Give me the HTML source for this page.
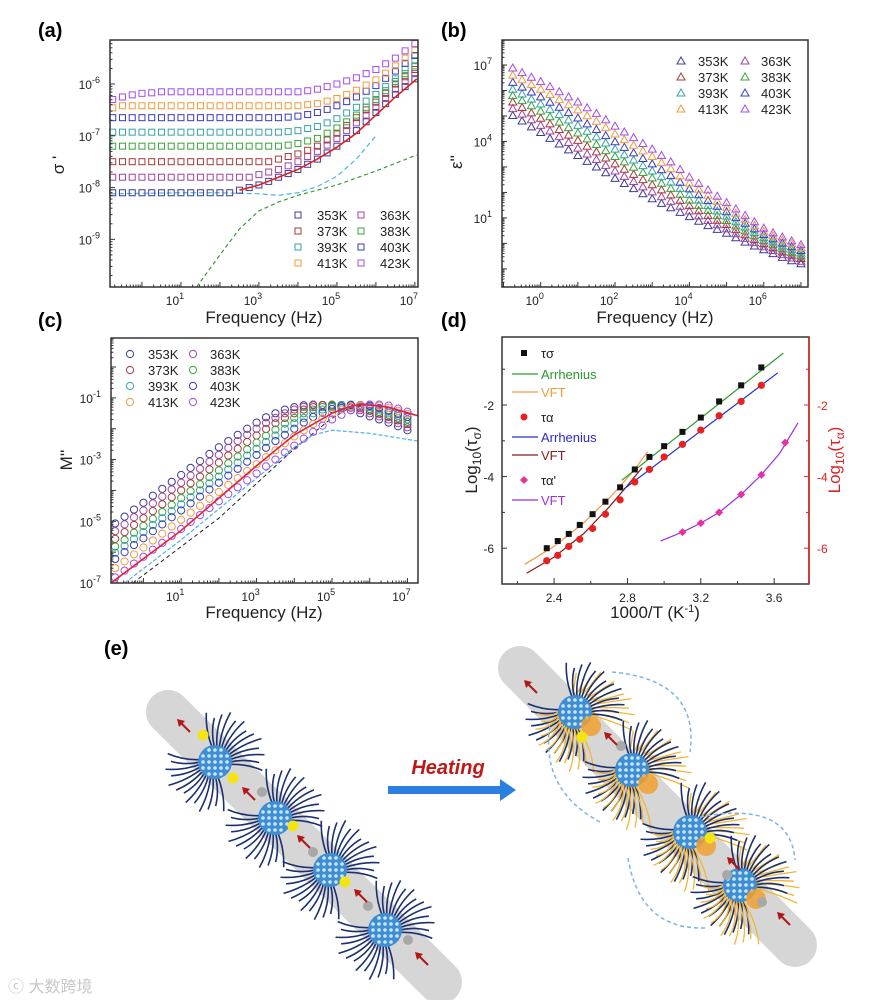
<!DOCTYPE html>
<html><head><meta charset="utf-8"><style>
html,body{margin:0;padding:0;background:#fff}
svg{display:block;font-family:"Liberation Sans",Arial,sans-serif}
</style></head><body>
<svg id="fig" width="871" height="1000" viewBox="0 0 871 1000" xmlns="http://www.w3.org/2000/svg">
<g id="pa"></g>
<g id="pb"></g>
<g id="pc"></g>
<g id="pd"></g>
<g id="pe"></g>
<text x="38" y="37" font-size="20" font-weight="bold">(a)</text>
<text x="441" y="37" font-size="20" font-weight="bold">(b)</text>
<text x="38" y="327" font-size="20" font-weight="bold">(c)</text>
<text x="441" y="327" font-size="20" font-weight="bold">(d)</text>
<text x="104" y="655" font-size="20" font-weight="bold">(e)</text>
<text x="8" y="992" font-size="16" fill="#c8c8c8" font-family="'Liberation Sans','Noto Sans CJK SC',sans-serif">ⓒ 大数跨境</text>
</svg>
<script>
// ---------- DATA ----------
const temps = ["353K","363K","373K","383K","393K","403K","413K","423K"];
const colors = ["#3b3b9c","#a4449e","#a83a3a","#3aa33a","#3aa3a3","#3b3bc4","#f39a3a","#a24cf0"];
// shared log10 frequency grid for panels a, b, c
const freqGrid = [-0.75,-0.5,-0.25,0,0.25,0.5,0.75,1,1.25,1.5,1.75,2,2.25,2.5,2.75,3,3.25,3.5,3.75,4,4.25,4.5,4.75,5,5.25,5.5,5.75,6,6.25,6.5,6.75,7];
// panel a: log10 sigma'
const sigA353 = [-8.1,-8.1,-8.1,-8.1,-8.1,-8.1,-8.1,-8.1,-8.1,-8.1,-8.1,-8.1,-8.1,-8.05,-8.0,-7.95,-7.88,-7.8,-7.73,-7.65,-7.55,-7.45,-7.33,-7.2,-7.05,-6.9,-6.73,-6.55,-6.38,-6.2,-6.05,-5.9];
const sigA363 = [-7.8,-7.8,-7.8,-7.8,-7.8,-7.8,-7.8,-7.8,-7.8,-7.8,-7.8,-7.8,-7.8,-7.8,-7.8,-7.75,-7.7,-7.65,-7.58,-7.5,-7.4,-7.3,-7.18,-7.05,-6.9,-6.75,-6.6,-6.45,-6.28,-6.1,-5.95,-5.8];
const sigA373 = [-7.5,-7.5,-7.5,-7.5,-7.5,-7.5,-7.5,-7.5,-7.5,-7.5,-7.5,-7.5,-7.5,-7.5,-7.5,-7.5,-7.5,-7.45,-7.4,-7.35,-7.28,-7.2,-7.08,-6.95,-6.8,-6.65,-6.5,-6.35,-6.18,-6.0,-5.86,-5.72];
const sigA383 = [-7.2,-7.2,-7.2,-7.2,-7.2,-7.2,-7.2,-7.2,-7.2,-7.2,-7.2,-7.2,-7.2,-7.2,-7.2,-7.2,-7.2,-7.2,-7.18,-7.15,-7.1,-7.05,-6.95,-6.85,-6.73,-6.6,-6.45,-6.3,-6.13,-5.95,-5.8,-5.65];
const sigA393 = [-6.93,-6.93,-6.93,-6.93,-6.93,-6.93,-6.93,-6.93,-6.93,-6.93,-6.93,-6.93,-6.93,-6.93,-6.93,-6.93,-6.93,-6.93,-6.92,-6.9,-6.86,-6.82,-6.75,-6.67,-6.56,-6.45,-6.33,-6.2,-6.05,-5.9,-5.72,-5.55];
const sigA403 = [-6.65,-6.65,-6.65,-6.65,-6.65,-6.65,-6.65,-6.65,-6.65,-6.65,-6.65,-6.65,-6.65,-6.65,-6.65,-6.65,-6.65,-6.65,-6.64,-6.62,-6.59,-6.55,-6.49,-6.42,-6.34,-6.25,-6.14,-6.03,-5.89,-5.75,-5.6,-5.45];
const sigA413 = [-6.46,-6.42,-6.42,-6.42,-6.42,-6.42,-6.42,-6.42,-6.42,-6.42,-6.42,-6.42,-6.42,-6.42,-6.42,-6.42,-6.42,-6.42,-6.42,-6.42,-6.4,-6.38,-6.33,-6.28,-6.2,-6.12,-6.02,-5.92,-5.79,-5.65,-5.5,-5.35];
const sigA423 = [-6.3,-6.25,-6.21,-6.18,-6.17,-6.15,-6.15,-6.15,-6.15,-6.15,-6.15,-6.15,-6.15,-6.15,-6.15,-6.15,-6.15,-6.15,-6.15,-6.15,-6.13,-6.1,-6.05,-6.0,-5.94,-5.88,-5.8,-5.72,-5.61,-5.5,-5.36,-5.22];
const fitRedX = [2.5,3,3.5,4,4.5,5,5.5,6,6.5,7.05];
const fitRedY = [-8.05,-7.95,-7.8,-7.65,-7.45,-7.22,-6.95,-6.6,-6.25,-5.9];
const fitCyanX = [-0.8,1,2,3,3.5,4,4.5,5,5.5,6];
const fitCyanY = [-8.12,-8.1,-8.1,-8.12,-8.15,-8.1,-7.98,-7.78,-7.45,-7.0];
const fitGreenX = [1.4,2,2.5,3,3.5,4,5,6,7.05];
const fitGreenY = [-9.92,-9.3,-8.8,-8.45,-8.28,-8.15,-7.95,-7.68,-7.37];
// panel b: log10 eps''
const epsB353 = [5.02,4.8,4.57,4.35,4.12,3.9,3.67,3.45,3.22,3.0,2.77,2.55,2.35,2.15,1.95,1.75,1.57,1.4,1.22,1.05,0.87,0.7,0.55,0.4,0.22,0.05,-0.1,-0.25,-0.4,-0.55,-0.68,-0.8];
const epsB363 = [5.29,5.07,4.85,4.63,4.41,4.19,3.96,3.74,3.51,3.29,3.06,2.84,2.63,2.43,2.22,2.02,1.83,1.65,1.46,1.27,1.08,0.9,0.73,0.57,0.38,0.2,0.03,-0.13,-0.28,-0.44,-0.57,-0.7];
const epsB373 = [5.55,5.33,5.12,4.91,4.69,4.47,4.25,4.04,3.81,3.59,3.35,3.12,2.91,2.71,2.5,2.30,2.1,1.90,1.69,1.48,1.28,1.09,0.91,0.74,0.54,0.34,0.16,-0.01,-0.17,-0.33,-0.46,-0.59];
const epsB383 = [5.8,5.6,5.4,5.19,4.97,4.76,4.54,4.33,4.1,3.88,3.64,3.41,3.2,2.99,2.78,2.57,2.36,2.16,1.93,1.7,1.49,1.29,1.09,0.9,0.69,0.49,0.3,0.11,-0.05,-0.21,-0.35,-0.49];
const epsB393 = [6.05,5.86,5.66,5.47,5.26,5.05,4.84,4.63,4.4,4.18,3.94,3.7,3.48,3.27,3.05,2.84,2.62,2.41,2.16,1.92,1.7,1.48,1.27,1.07,0.85,0.64,0.43,0.23,0.06,-0.1,-0.24,-0.38];
const epsB403 = [6.32,6.13,5.94,5.75,5.54,5.34,5.13,4.92,4.69,4.47,4.23,3.99,3.77,3.55,3.33,3.12,2.89,2.66,2.4,2.14,1.91,1.68,1.46,1.24,1.01,0.79,0.57,0.35,0.18,0.01,-0.13,-0.28];
const epsB413 = [6.6,6.42,6.23,6.05,5.84,5.64,5.44,5.24,5.01,4.79,4.54,4.29,4.07,3.85,3.63,3.41,3.17,2.93,2.65,2.37,2.13,1.89,1.65,1.42,1.18,0.94,0.7,0.47,0.3,0.13,-0.01,-0.16];
const epsB423 = [6.88,6.7,6.52,6.35,6.15,5.95,5.75,5.55,5.32,5.1,4.85,4.6,4.37,4.15,3.92,3.7,3.45,3.2,2.9,2.6,2.35,2.1,1.85,1.6,1.35,1.1,0.85,0.6,0.42,0.25,0.1,-0.05];
// panel c: log10 M''
const modC353 = [-5.07,-4.85,-4.62,-4.4,-4.17,-3.95,-3.72,-3.5,-3.27,-3.05,-2.82,-2.6,-2.4,-2.2,-2.0,-1.8,-1.63,-1.5,-1.38,-1.3,-1.24,-1.22,-1.23,-1.27,-1.33,-1.4,-1.5,-1.6,-1.7,-1.8,-1.92,-2.05];
const modC363 = [-5.32,-5.1,-4.87,-4.65,-4.42,-4.2,-3.97,-3.75,-3.52,-3.3,-3.07,-2.85,-2.62,-2.4,-2.2,-2.0,-1.81,-1.65,-1.5,-1.38,-1.29,-1.24,-1.23,-1.24,-1.27,-1.32,-1.4,-1.5,-1.6,-1.7,-1.82,-1.95];
const modC373 = [-5.57,-5.35,-5.12,-4.9,-4.67,-4.45,-4.22,-4.0,-3.77,-3.55,-3.32,-3.1,-2.87,-2.65,-2.43,-2.22,-2.01,-1.82,-1.65,-1.5,-1.38,-1.3,-1.24,-1.22,-1.24,-1.28,-1.34,-1.42,-1.52,-1.62,-1.73,-1.85];
const modC383 = [-5.82,-5.6,-5.37,-5.15,-4.92,-4.7,-4.47,-4.25,-4.02,-3.8,-3.57,-3.35,-3.12,-2.9,-2.67,-2.45,-2.23,-2.03,-1.83,-1.65,-1.5,-1.38,-1.3,-1.24,-1.23,-1.24,-1.29,-1.36,-1.45,-1.55,-1.66,-1.78];
const modC393 = [-6.02,-5.8,-5.57,-5.35,-5.12,-4.9,-4.67,-4.45,-4.22,-4.0,-3.77,-3.55,-3.32,-3.1,-2.87,-2.65,-2.43,-2.22,-2.01,-1.82,-1.65,-1.5,-1.38,-1.3,-1.25,-1.22,-1.25,-1.3,-1.38,-1.48,-1.58,-1.7];
const modC403 = [-6.22,-6.0,-5.77,-5.55,-5.32,-5.1,-4.87,-4.65,-4.42,-4.2,-3.97,-3.75,-3.52,-3.3,-3.07,-2.85,-2.62,-2.4,-2.2,-2.0,-1.8,-1.62,-1.48,-1.36,-1.28,-1.23,-1.23,-1.26,-1.33,-1.42,-1.52,-1.62];
const modC413 = [-6.52,-6.3,-6.07,-5.85,-5.62,-5.4,-5.17,-4.95,-4.72,-4.5,-4.27,-4.05,-3.82,-3.6,-3.37,-3.15,-2.92,-2.7,-2.47,-2.25,-2.05,-1.85,-1.67,-1.5,-1.38,-1.28,-1.24,-1.22,-1.26,-1.32,-1.42,-1.52];
const modC423 = [-6.82,-6.6,-6.37,-6.15,-5.92,-5.7,-5.47,-5.25,-5.02,-4.8,-4.57,-4.35,-4.12,-3.9,-3.67,-3.45,-3.22,-3.0,-2.77,-2.55,-2.32,-2.1,-1.9,-1.7,-1.55,-1.4,-1.3,-1.22,-1.22,-1.25,-1.35,-1.45];
const fitCRedX = [-0.86,1,3,4,5,5.5,5.8,6.5,7.28];
const fitCRedY = [-7.0,-5.3,-3.2,-2.2,-1.5,-1.27,-1.2,-1.3,-1.58];
const fitCBlackX = [-0.28,2,4,4.95,5.5,6,7.28];
const fitCBlackY = [-7.0,-4.9,-2.65,-1.7,-1.3,-1.22,-1.58];
const fitCCyanX = [-0.5,1,2,3,4,4.5,5,6,7.28];
const fitCCyanY = [-7.0,-5.6,-4.6,-3.6,-2.6,-2.2,-2.05,-2.15,-2.4];
// panel d
const dSigX = [2.36,2.42,2.48,2.54,2.61,2.68,2.76,2.84,2.92,3.0,3.1,3.2,3.3,3.42,3.53];
const dSigY = [-6.0,-5.8,-5.6,-5.35,-5.05,-4.7,-4.3,-3.8,-3.45,-3.15,-2.75,-2.35,-1.9,-1.45,-0.95];
const dAlpX = [2.36,2.42,2.48,2.54,2.61,2.68,2.76,2.84,2.92,3.0,3.1,3.2,3.3,3.42,3.53];
const dAlpY = [-6.35,-6.2,-5.95,-5.75,-5.45,-5.05,-4.65,-4.15,-3.8,-3.45,-3.1,-2.7,-2.3,-1.9,-1.45];
const dAlp2X = [3.1,3.2,3.3,3.42,3.53,3.66];
const dAlp2Y = [-5.55,-5.3,-5.0,-4.5,-3.95,-3.05];
const arrSigX = [2.77,3.65], arrSigY = [-4.1,-0.55];
const vftSigX = [2.24,2.4,2.56,2.72,2.84,2.91], vftSigY = [-6.45,-5.95,-5.3,-4.5,-3.8,-3.3];
const arrAlpX = [2.78,3.62], arrAlpY = [-4.35,-1.1];
const vftAlpX = [2.25,2.4,2.56,2.7,2.8,2.88], vftAlpY = [-6.7,-6.25,-5.6,-4.85,-4.25,-3.75];
const vftAlp2X = [2.98,3.1,3.2,3.3,3.42,3.53,3.63,3.73], vftAlp2Y = [-5.8,-5.55,-5.3,-5.0,-4.5,-3.95,-3.35,-2.5];
// ---------- HELPERS ----------
const NS="http://www.w3.org/2000/svg";
function mk(parent,tag,attrs){const e=document.createElementNS(NS,tag);for(const k in attrs)e.setAttribute(k,attrs[k]);parent.appendChild(e);return e;}
function axes(o){return {x:v=>o.x0+(v-o.xmin)/(o.xmax-o.xmin)*(o.x1-o.x0), y:v=>o.y1-(v-o.ymin)/(o.ymax-o.ymin)*(o.y1-o.y0)};}
function frame(g,o){
  const r=mk(g,'rect',{x:o.x0,y:o.y0,width:o.x1-o.x0,height:o.y1-o.y0,fill:'none',stroke:'#333','stroke-width':1.5});
  
  
}
function logTicks(g,o,A,axis,labels){
  const lo=Math.floor(axis==='x'?o.xmin:o.ymin), hi=Math.ceil(axis==='x'?o.xmax:o.ymax);
  const mn=axis==='x'?o.xmin:o.ymin, mx=axis==='x'?o.xmax:o.ymax;
  for(let d=lo;d<=hi;d++){
    for(let m=1;m<10;m++){
      const v=d+Math.log10(m); if(v<mn||v>mx) continue;
      const len=m===1?5:2.5;
      if(axis==='x'){const X=A.x(v);mk(g,'line',{x1:X,x2:X,y1:o.y1,y2:o.y1-len,stroke:'#333','stroke-width':1});}
      else{const Y=A.y(v);mk(g,'line',{x1:o.x0,x2:o.x0+len,y1:Y,y2:Y,stroke:'#333','stroke-width':1});}
    }
  }
  labels.forEach(d=>{
    const t=mk(g,'text',{'font-size':12,fill:'#222'});
    
    
    if(axis==='x'){t.setAttribute('x',A.x(d)-6);t.setAttribute('y',o.y1+18);t.setAttribute('text-anchor','middle');}
    else{t.setAttribute('x',o.x0-10);t.setAttribute('y',A.y(d)+5);t.setAttribute('text-anchor','end');}
    t.textContent='10';
    const s=mk(t,'tspan',{dy:-6,'font-size':9});s.textContent=String(d);
  });
}
function marker(g,type,x,y,c){
  let e;
  if(type==='sq') e=mk(g,'rect',{x:x-3,y:y-3,width:6,height:6,fill:'none',stroke:c,'stroke-width':1});
  else if(type==='tri') e=mk(g,'polygon',{points:`${x},${y-4} ${x-4},${y+3} ${x+4},${y+3}`,fill:'none',stroke:c,'stroke-width':1});
  else e=mk(g,'circle',{cx:x,cy:y,r:3.6,fill:'none',stroke:c,'stroke-width':1});
  
  
  return e;
}
function poly(g,A,xs,ys,c,dash,w){
  const p=mk(g,'polyline',{points:xs.map((x,i)=>A.x(x)+','+A.y(ys[i])).join(' '),fill:'none',stroke:c,'stroke-width':w||1.2});
  if(dash)p.setAttribute('stroke-dasharray',dash);
  
  
  return p;
}
function legend(g,type,mx,tx,y0s,dy){
  temps.forEach((t,i)=>{
    const col=i%2, row=Math.floor(i/2);
    const y=y0s+row*dy;
    marker(g,type,mx[col],y,colors[i]);
    const tt=mk(g,'text',{x:tx[col],y:y+5,'font-size':13,fill:'#222'});
    
    
    tt.textContent=t;
  });
}
function label(g,txt,x,y,rot,size,fill){
  const t=mk(g,'text',{x:x,y:y,'font-size':size||16,'text-anchor':'middle',fill:fill||'#222'});
  if(rot)t.setAttribute('transform',`rotate(-90 ${x} ${y})`);
  
  
  t.textContent=txt;return t;
}
function inRange(o,f){return f>=o.xmin&&f<=o.xmax;}
// ---------- PANEL A ----------
(function(){
  const g=document.getElementById('pa');
  const o={x0:110,x1:418,y0:40,y1:287,xmin:-0.82,xmax:7.08,ymin:-9.92,ymax:-5.15};
  const A=axes(o);
  const series=[sigA353,sigA363,sigA373,sigA383,sigA393,sigA403,sigA413,sigA423];
  poly(g,A,fitGreenX,fitGreenY,'#3a9a3a','4,3');
  poly(g,A,fitCyanX,fitCyanY,'#4ab4e6','5,3');
  series.forEach((s,k)=>freqGrid.forEach((f,i)=>{if(inRange(o,f))marker(g,'sq',A.x(f),A.y(s[i]),colors[k]);}));
  poly(g,A,fitRedX,fitRedY,'#e02020',null,1.6);
  frame(g,o);
  logTicks(g,o,A,'x',[1,3,5,7]);
  logTicks(g,o,A,'y',[-6,-7,-8,-9]);
  legend(g,'sq',[298,361],[317,380],215,16);
  label(g,'Frequency (Hz)',264,323,false,17);
  label(g,"σ '",64,165,true,17);
})();
// ---------- PANEL B ----------
(function(){
  const g=document.getElementById('pb');
  const o={x0:502,x1:808,y0:40,y1:287,xmin:-1.04,xmax:7.19,ymin:-1.71,ymax:7.98};
  const A=axes(o);
  const series=[epsB353,epsB363,epsB373,epsB383,epsB393,epsB403,epsB413,epsB423];
  series.forEach((s,k)=>freqGrid.forEach((f,i)=>{if(inRange(o,f))marker(g,'tri',A.x(f),A.y(s[i]),colors[k]);}));
  frame(g,o);
  logTicks(g,o,A,'x',[0,2,4,6]);
  logTicks(g,o,A,'y',[7,4,1]);
  legend(g,'tri',[681,745],[698,761],61,16);
  label(g,'Frequency (Hz)',655,323,false,17);
  label(g,"ε''",462,162,true,17);
})();
// ---------- PANEL C ----------
(function(){
  const g=document.getElementById('pc');
  const o={x0:111,x1:418,y0:338,y1:583,xmin:-0.86,xmax:7.28,ymin:-7.0,ymax:0.94};
  const A=axes(o);
  const series=[modC353,modC363,modC373,modC383,modC393,modC403,modC413,modC423];
  poly(g,A,fitCBlackX,fitCBlackY,'#222','4,3',1);
  poly(g,A,fitCCyanX,fitCCyanY,'#4ab4e6','4,2',1.2);
  series.forEach((s,k)=>freqGrid.forEach((f,i)=>{if(inRange(o,f))marker(g,'ci',A.x(f),A.y(s[i]),colors[k]);}));
  poly(g,A,fitCRedX,fitCRedY,'#e8203a',null,1.6);
  frame(g,o);
  logTicks(g,o,A,'x',[1,3,5,7]);
  logTicks(g,o,A,'y',[-1,-3,-5,-7]);
  legend(g,'ci',[130,193],[148,210],354,16);
  label(g,'Frequency (Hz)',264,618,false,17);
  label(g,"M''",72,460,true,17);
})();
// ---------- PANEL D ----------
(function(){
  const g=document.getElementById('pd');
  const o={x0:502,x1:809,y0:337,y1:584,xmin:2.116,xmax:3.79,ymin:-7.0,ymax:-0.1};
  const A=axes(o);
  frame(g,o);
  const rl=mk(g,'line',{x1:809,x2:809,y1:337,y2:584,stroke:'#e02020','stroke-width':1.5});
  
  
  [2.2,2.4,2.6,2.8,3.0,3.2,3.4,3.6].forEach(v=>{const X=A.x(v);mk(g,'line',{x1:X,x2:X,y1:584,y2:Math.round(v*10)%4===0?578:581,stroke:'#333'});});
  [2.4,2.8,3.2,3.6].forEach(v=>{const t=mk(g,'text',{x:A.x(v),y:602,'font-size':12,'text-anchor':'middle',fill:'#222'});
    
    
    t.textContent=v.toFixed(1);});
  [-1,-2,-3,-4,-5,-6].forEach(v=>{const Y=A.y(v);const len=v%2===0?5:3;
    mk(g,'line',{x1:502,x2:502+len,y1:Y,y2:Y,stroke:'#333'});
    mk(g,'line',{x1:809,x2:809-len,y1:Y,y2:Y,stroke:'#e02020'});
    if(v%2===0){
      const t=mk(g,'text',{x:494,y:Y+5,'font-size':12,'text-anchor':'end',fill:'#222'});
      
      
      t.textContent=String(v);
      const t2=mk(g,'text',{x:817,y:Y+5,'font-size':12,fill:'#e02020'});
      
      
      t2.textContent=String(v);
    }});
  poly(g,A,vftSigX,vftSigY,'#f09a40');
  poly(g,A,arrSigX,arrSigY,'#2a9a2a');
  poly(g,A,vftAlpX,vftAlpY,'#8a1a1a');
  poly(g,A,arrAlpX,arrAlpY,'#2a2ad0');
  poly(g,A,vftAlp2X,vftAlp2Y,'#9a30e0');
  dSigX.forEach((x,i)=>{const e=mk(g,'rect',{x:A.x(x)-3,y:A.y(dSigY[i])-3,width:6,height:6,fill:'#111'});
    
    });
  dAlpX.forEach((x,i)=>{const e=mk(g,'circle',{cx:A.x(x),cy:A.y(dAlpY[i]),r:3.6,fill:'#e82020'});
    
    });
  dAlp2X.forEach((x,i)=>{const X=A.x(x),Y=A.y(dAlp2Y[i]);const e=mk(g,'polygon',{points:`${X},${Y-4} ${X+4},${Y} ${X},${Y+4} ${X-4},${Y}`,fill:'#e830a0'});
    
    });
  const L=[['sq','#111','τσ',353],['ln','#2a9a2a','Arrhenius',374],['ln','#f09a40','VFT',392],['ci','#e82020','τα',417],['ln','#2a2ad0','Arrhenius',437],['ln','#8a1a1a','VFT',455],['di','#e830a0',"τα'",480],['ln','#9a30e0','VFT',500]];
  L.forEach(([t,c,txt,y])=>{
    if(t==='sq')mk(g,'rect',{x:521,y:y-3,width:6,height:6,fill:c});
    else if(t==='ci')mk(g,'circle',{cx:524,cy:y,r:3.5,fill:c});
    else if(t==='di')mk(g,'polygon',{points:`524,${y-4} 528,${y} 524,${y+4} 520,${y}`,fill:c});
    else mk(g,'line',{x1:512,x2:538,y1:y,y2:y,stroke:c,'stroke-width':1.3});
    const tt=mk(g,'text',{x:541,y:y+5,'font-size':13,fill:t==='ln'?c:'#222'});
    
    
    tt.textContent=txt;
  });
  const yt=mk(g,'text',{x:477,y:460,'font-size':17,'text-anchor':'middle',transform:'rotate(-90 477 460)',fill:'#222'});
  
  
  yt.innerHTML='Log<tspan dy="4" font-size="12">10</tspan><tspan dy="-4">(τ</tspan><tspan dy="4" font-size="12">σ</tspan><tspan dy="-4">)</tspan>';
  const y2=mk(g,'text',{x:840,y:460,'font-size':17,'text-anchor':'middle',transform:'rotate(-90 840 460)',fill:'#e02020'});
  
  
  y2.innerHTML='Log<tspan dy="4" font-size="12">10</tspan><tspan dy="-4">(τ</tspan><tspan dy="4" font-size="12">α</tspan><tspan dy="-4">)</tspan>';
  const xt=mk(g,'text',{x:655,y:618,'font-size':17,'text-anchor':'middle',fill:'#222'});
  
  
  xt.innerHTML='1000/T (K<tspan dy="-6" font-size="11">-1</tspan><tspan dy="6">)</tspan>';
})();
// ---------- PANEL E (illustration) ----------
(function(){
  const g=document.getElementById('pe');
  function rod(x1,y1,x2,y2){const l=mk(g,'line',{x1,y1,x2,y2,stroke:'#d6d6d6','stroke-width':44,'stroke-linecap':'round'});
    
    }
  rod(168,712,440,982); rod(520,668,795,945);
  function cluster(cx,cy,orange){
    const cg=mk(g,'g',{});
    
    
    const dirs=[[-1,1],[1,-1]];
    dirs.forEach(([dx,dy])=>{
      for(let i=-6;i<=6;i++){
        const a=Math.atan2(dy,dx)+i*0.16;
        const r0=14,r1=44+((i*7)%5+5)%5*2;
        const x0=cx+Math.cos(a)*r0,y0=cy+Math.sin(a)*r0,x1=cx+Math.cos(a)*r1,y1=cy+Math.sin(a)*r1;
        const mx=(x0+x1)/2+Math.sin(a)*4,my=(y0+y1)/2-Math.cos(a)*4;
        mk(cg,'path',{d:`M${x0},${y0} Q${mx},${my} ${x1},${y1}`,fill:'none',stroke:'#1c2f6e','stroke-width':1.6});
        if(orange){
          mk(cg,'path',{d:`M${x0},${y0} Q${mx+8},${my+8} ${x1+10},${y1+10}`,fill:'none',stroke:'#f2b632','stroke-width':1.3});
        }
      }
    });
    mk(cg,'circle',{cx,cy,r:17,fill:'#3d8ed3'});
    for(let i=-2;i<=2;i++)for(let j=-2;j<=2;j++){if(i*i+j*j<=5)mk(cg,'circle',{cx:cx+i*6,cy:cy+j*6,r:1.8,fill:'#cde6f7'});}
    if(orange)mk(cg,'circle',{cx:cx+16,cy:cy+14,r:10,fill:'#f0a030',opacity:0.85});
  }
  [[215,762],[275,818],[330,870],[385,930]].forEach(p=>cluster(p[0],p[1],false));
  [[575,712],[632,770],[690,832],[740,885]].forEach(p=>cluster(p[0],p[1],true));
  [[203,735],[233,778],[293,826],[345,882],[582,737],[710,838]].forEach(p=>{const c=mk(g,'circle',{cx:p[0],cy:p[1],r:5.5,fill:'#f4e414'});
    });
  [[262,792],[313,852],[368,906],[408,940],[621,746],[727,875],[762,902]].forEach(p=>{const c=mk(g,'circle',{cx:p[0],cy:p[1],r:5,fill:'#a8a8a8'});
    });
  function arrow(x,y){mk(g,'line',{x1:x+10,y1:y+10,x2:x,y2:y,stroke:'#b01818','stroke-width':2});
    mk(g,'polygon',{points:`${x-3},${y-3} ${x+5},${y-1} ${x-1},${y+5}`,fill:'#b01818'});}
  [[180,722],[245,790],[300,838],[357,892],[418,955],[527,683],[607,735],[730,860],[780,915]].forEach(p=>arrow(p[0],p[1]));
  [['M612,672 Q700,680 690,752'],['M600,822 Q540,790 550,725'],['M700,817 Q790,800 795,860'],['M705,928 Q640,930 628,858']].forEach(d=>{
    const p=mk(g,'path',{d:d[0],fill:'none',stroke:'#7ab4ea','stroke-width':1.5,'stroke-dasharray':'4,3'});
    });
  const ht=mk(g,'text',{x:448,y:774,'font-size':20,'font-weight':'bold','font-style':'italic',fill:'#c01818','text-anchor':'middle'});
  
  
  ht.textContent='Heating';
  const ha=mk(g,'path',{d:'M388,786 L500,786 L500,779 L516,790 L500,801 L500,794 L388,794 Z',fill:'#2a7fe0'});
  
  
})();
</script>
</body></html>
